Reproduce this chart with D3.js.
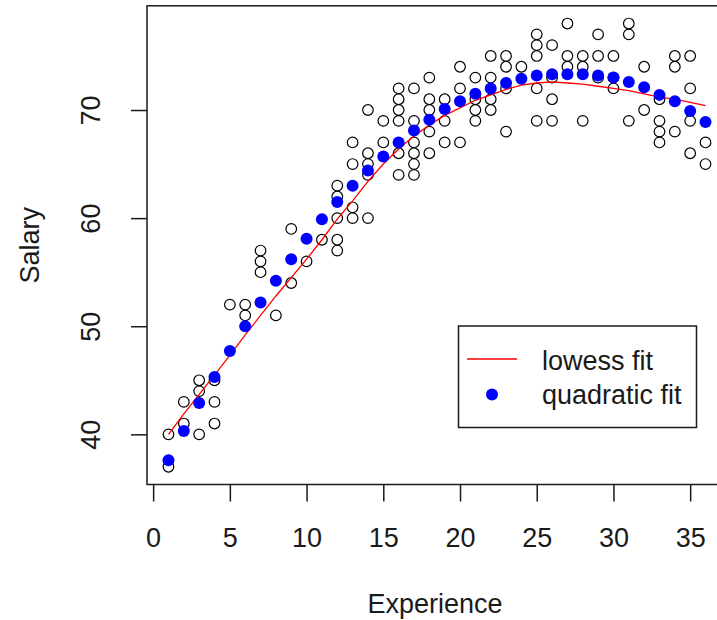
<!DOCTYPE html>
<html>
<head>
<meta charset="utf-8">
<script src="https://cdn.jsdelivr.net/npm/d3@7"></script>
<style>
  body { margin: 0; background: #fff; }
  svg text { font-family: "Liberation Sans", Arial, sans-serif; fill: #1a1a1a; }
</style>
</head>
<body>
<svg id="chart" width="717" height="620"></svg>
<script>
// experience (years) and observed salaries at each year
var years = [1, 2, 3, 4, 5, 6, 7, 8, 9, 10, 11, 12, 13, 14, 15, 16, 17, 18,
  19, 20, 21, 22, 23, 24, 25, 26, 27, 28, 29, 30, 31, 32, 33, 34, 35, 36];
var salaries = [
  [40, 37], [43, 41], [45, 44, 40], [45, 43, 41], [52], [52, 51], [57, 56, 55],
  [51], [59, 54], [56], [58], [63, 62, 60, 58, 57], [67, 65, 61, 60],
  [70, 66, 65, 64, 60], [69, 67], [72, 71, 70, 69, 66, 64], [72, 69, 67, 66, 65, 64],
  [73, 71, 70, 68, 66], [71, 69, 67], [74, 72, 67], [73, 71, 70, 69],
  [75, 73, 71, 70], [75, 74, 72, 68], [74], [77, 76, 75, 72, 69], [76, 73, 71, 69],
  [78, 75, 74], [75, 74, 69], [77, 75, 73], [75, 73, 72], [78, 77, 69], [74, 70],
  [71, 69, 68, 67], [75, 74, 68], [75, 72, 69, 66], [67, 65]
];
// fitted values
var quadFit = [37.6, 40.3, 42.9, 45.3, 47.7, 50.0, 52.2, 54.2, 56.2, 58.1, 59.9, 61.5,
  63.0, 64.4, 65.7, 67.0, 68.1, 69.1, 70.1, 70.8, 71.5, 72.0, 72.5, 72.9, 73.2, 73.3,
  73.3, 73.3, 73.2, 73.0, 72.6, 72.1, 71.4, 70.8, 69.9, 68.9];
var lowessFit = [40.0, 41.9, 43.7, 45.5, 47.3, 49.2, 51.0, 52.8, 54.5, 56.2, 58.0, 59.9,
  61.6, 63.4, 65.0, 66.4, 67.6, 68.6, 69.5, 70.2, 70.9, 71.4, 71.9, 72.3, 72.5, 72.6,
  72.5, 72.4, 72.2, 72.0, 71.8, 71.5, 71.2, 71.0, 70.7, 70.4];
var xTicks = [0, 5, 10, 15, 20, 25, 30, 35];
var yTicks = [40, 50, 60, 70];

var svg = d3.select("#chart");
var ink = "#1a1a1a";
var fontSize = 27;

var x = d3.scaleLinear().domain([-0.4, 37.4]).range([147, 727]);
var y = d3.scaleLinear().domain([35.36, 79.64]).range([484.5, 5.8]);

//scatter points
var points = [];
years.forEach(function(yr, i) {
  salaries[i].forEach(function(s) { points.push([yr, s]); });
});

svg.append("g")
  .selectAll("circle")
  .data(points)
  .enter()
  .append("circle")
    .attr("cx", function(d) { return x(d[0]); })
    .attr("cy", function(d) { return y(d[1]); })
    .attr("r", 5.3)
    .style("fill", "none")
    .style("stroke", "#000")
    .style("stroke-width", 1.2);

// lowess line
var line = d3.line()
  .x(function(d) { return x(d[0]); })
  .y(function(d) { return y(d[1]); });

svg.append("path")
  .datum(years.map(function(yr, i) { return [yr, lowessFit[i]]; }))
  .attr("d", line)
  .style("fill", "none")
  .style("stroke", "#ff0000")
  .style("stroke-width", 1.3);

// quadratic fit dots
svg.append("g")
  .selectAll("circle")
  .data(years.map(function(yr, i) { return [yr, quadFit[i]]; }))
  .enter()
  .append("circle")
    .attr("cx", function(d) { return x(d[0]); })
    .attr("cy", function(d) { return y(d[1]); })
    .attr("r", 6)
    .style("fill", "#0000ff");

// plot box
svg.append("rect")
  .attr("x", x.range()[0])
  .attr("y", y.range()[1])
  .attr("width", x.range()[1] - x.range()[0])
  .attr("height", y.range()[0] - y.range()[1])
  .style("fill", "none")
  .style("stroke", ink)
  .style("stroke-width", 1.5);

// axes
var xAxis = svg.append("g")
  .attr("transform", "translate(0," + y.range()[0] + ")")
  .call(d3.axisBottom(x).tickValues(xTicks).tickSize(17).tickPadding(26).tickFormat(d3.format("d")));
var yAxis = svg.append("g")
  .attr("transform", "translate(" + x.range()[0] + ",0)")
  .call(d3.axisLeft(y).tickValues(yTicks).tickSize(16).tickFormat(d3.format("d")));

[xAxis, yAxis].forEach(function(g) {
  g.select(".domain").remove();
  g.selectAll(".tick line").style("stroke", ink).style("stroke-width", 1.5);
  g.selectAll(".tick text").style("font-size", fontSize + "px").style("fill", ink);
});
yAxis.selectAll(".tick text")
  .attr("transform", "rotate(-90)")
  .attr("x", 0)
  .attr("y", -56)
  .attr("dy", "0.35em")
  .attr("text-anchor", "middle");

// axis titles
svg.append("text")
  .attr("x", (x.range()[0] + x.range()[1]) / 2 - 2)
  .attr("y", 604)
  .attr("dy", "0.35em")
  .attr("text-anchor", "middle")
  .style("font-size", fontSize + "px")
  .text("Experience");

svg.append("text")
  .attr("transform", "translate(30," + (y.range()[0] + y.range()[1]) / 2 + ") rotate(-90)")
  .attr("dy", "0.35em")
  .attr("text-anchor", "middle")
  .style("font-size", fontSize + "px")
  .text("Salary");

// legend
var legend = svg.append("g");
legend.append("rect")
  .attr("x", 458.5).attr("y", 326)
  .attr("width", 238).attr("height", 101.5)
  .style("fill", "#fff")
  .style("stroke", ink)
  .style("stroke-width", 1.5);
legend.append("line")
  .attr("x1", 467).attr("x2", 517).attr("y1", 359).attr("y2", 359)
  .style("stroke", "#ff0000").style("stroke-width", 1.3);
legend.append("circle")
  .attr("cx", 492).attr("cy", 394.5).attr("r", 6)
  .style("fill", "#0000ff");
legend.append("text")
  .attr("x", 542).attr("y", 361).attr("dy", "0.35em")
  .style("font-size", fontSize + "px")
  .text("lowess fit");
legend.append("text")
  .attr("x", 542).attr("y", 395).attr("dy", "0.35em")
  .style("font-size", fontSize + "px")
  .text("quadratic fit");
</script>
</body>
</html>
